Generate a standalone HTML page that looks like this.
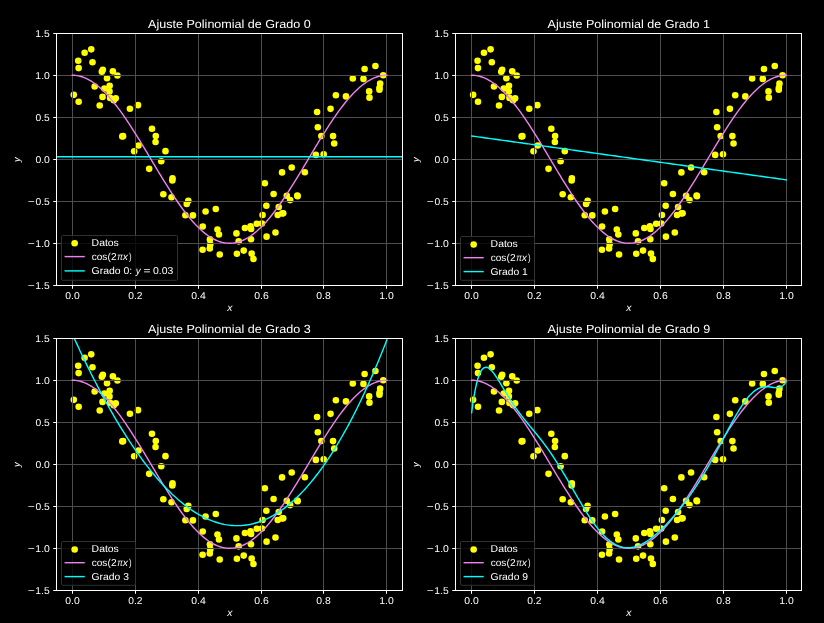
<!DOCTYPE html>
<html><head><meta charset="utf-8"><title>Ajuste Polinomial</title>
<style>
html,body{margin:0;padding:0;background:#000;}
svg{display:block;}
text{font-family:"Liberation Sans",sans-serif;fill:#fff;text-rendering:geometricPrecision;}
</style></head><body>
<svg width="824" height="623" viewBox="0 0 824 623">
<rect width="824" height="623" fill="#000"/>
<g id="ax0">
<clipPath id="c0"><rect x="56.5" y="33.5" width="346.0" height="252.0"/></clipPath>
<g fill="#ffff00" clip-path="url(#c0)">
<circle cx="73.78" cy="94.86" r="3.30"/>
<circle cx="78.22" cy="60.70" r="3.30"/>
<circle cx="78.63" cy="68.10" r="3.30"/>
<circle cx="78.67" cy="101.74" r="3.30"/>
<circle cx="84.63" cy="52.78" r="3.30"/>
<circle cx="91.25" cy="49.34" r="3.30"/>
<circle cx="92.48" cy="62.18" r="3.30"/>
<circle cx="94.65" cy="86.50" r="3.30"/>
<circle cx="99.71" cy="105.51" r="3.30"/>
<circle cx="101.86" cy="71.75" r="3.30"/>
<circle cx="102.53" cy="96.88" r="3.30"/>
<circle cx="102.85" cy="69.87" r="3.30"/>
<circle cx="104.41" cy="88.43" r="3.30"/>
<circle cx="107.03" cy="78.25" r="3.30"/>
<circle cx="109.51" cy="91.41" r="3.30"/>
<circle cx="109.65" cy="85.69" r="3.30"/>
<circle cx="110.11" cy="97.91" r="3.30"/>
<circle cx="112.86" cy="71.33" r="3.30"/>
<circle cx="113.76" cy="100.31" r="3.30"/>
<circle cx="115.77" cy="98.22" r="3.30"/>
<circle cx="117.40" cy="75.44" r="3.30"/>
<circle cx="122.31" cy="136.42" r="3.30"/>
<circle cx="123.05" cy="136.17" r="3.30"/>
<circle cx="129.93" cy="108.73" r="3.30"/>
<circle cx="134.14" cy="151.29" r="3.30"/>
<circle cx="138.01" cy="105.13" r="3.30"/>
<circle cx="138.48" cy="145.50" r="3.30"/>
<circle cx="149.19" cy="168.87" r="3.30"/>
<circle cx="151.98" cy="128.68" r="3.30"/>
<circle cx="155.52" cy="142.05" r="3.30"/>
<circle cx="155.78" cy="135.98" r="3.30"/>
<circle cx="161.26" cy="161.22" r="3.30"/>
<circle cx="163.34" cy="194.30" r="3.30"/>
<circle cx="165.46" cy="151.17" r="3.30"/>
<circle cx="171.52" cy="197.32" r="3.30"/>
<circle cx="172.33" cy="180.57" r="3.30"/>
<circle cx="172.51" cy="178.42" r="3.30"/>
<circle cx="185.39" cy="215.20" r="3.30"/>
<circle cx="186.71" cy="203.97" r="3.30"/>
<circle cx="188.29" cy="200.77" r="3.30"/>
<circle cx="192.92" cy="215.39" r="3.30"/>
<circle cx="202.61" cy="249.82" r="3.30"/>
<circle cx="202.74" cy="226.45" r="3.30"/>
<circle cx="205.57" cy="211.49" r="3.30"/>
<circle cx="209.77" cy="248.43" r="3.30"/>
<circle cx="209.95" cy="239.39" r="3.30"/>
<circle cx="210.27" cy="244.39" r="3.30"/>
<circle cx="215.79" cy="209.01" r="3.30"/>
<circle cx="217.46" cy="229.51" r="3.30"/>
<circle cx="218.98" cy="234.53" r="3.30"/>
<circle cx="219.72" cy="254.56" r="3.30"/>
<circle cx="236.45" cy="233.40" r="3.30"/>
<circle cx="236.89" cy="253.68" r="3.30"/>
<circle cx="238.67" cy="241.33" r="3.30"/>
<circle cx="243.70" cy="250.61" r="3.30"/>
<circle cx="244.93" cy="227.97" r="3.30"/>
<circle cx="250.53" cy="226.32" r="3.30"/>
<circle cx="250.98" cy="239.19" r="3.30"/>
<circle cx="251.11" cy="228.95" r="3.30"/>
<circle cx="251.66" cy="253.57" r="3.30"/>
<circle cx="253.47" cy="258.92" r="3.30"/>
<circle cx="256.79" cy="223.76" r="3.30"/>
<circle cx="261.90" cy="223.54" r="3.30"/>
<circle cx="262.56" cy="215.00" r="3.30"/>
<circle cx="264.84" cy="183.23" r="3.30"/>
<circle cx="266.36" cy="205.71" r="3.30"/>
<circle cx="266.58" cy="236.67" r="3.30"/>
<circle cx="273.59" cy="194.06" r="3.30"/>
<circle cx="275.47" cy="232.47" r="3.30"/>
<circle cx="277.74" cy="215.04" r="3.30"/>
<circle cx="278.75" cy="207.03" r="3.30"/>
<circle cx="282.04" cy="172.42" r="3.30"/>
<circle cx="282.24" cy="213.42" r="3.30"/>
<circle cx="283.25" cy="213.31" r="3.30"/>
<circle cx="286.77" cy="195.80" r="3.30"/>
<circle cx="290.12" cy="200.10" r="3.30"/>
<circle cx="291.74" cy="167.47" r="3.30"/>
<circle cx="297.27" cy="195.62" r="3.30"/>
<circle cx="297.62" cy="196.17" r="3.30"/>
<circle cx="304.84" cy="172.27" r="3.30"/>
<circle cx="315.84" cy="154.88" r="3.30"/>
<circle cx="317.07" cy="112.05" r="3.30"/>
<circle cx="317.82" cy="127.29" r="3.30"/>
<circle cx="321.34" cy="136.01" r="3.30"/>
<circle cx="323.68" cy="154.30" r="3.30"/>
<circle cx="330.55" cy="108.83" r="3.30"/>
<circle cx="333.05" cy="136.08" r="3.30"/>
<circle cx="334.20" cy="143.53" r="3.30"/>
<circle cx="335.88" cy="95.20" r="3.30"/>
<circle cx="345.97" cy="96.42" r="3.30"/>
<circle cx="352.81" cy="78.46" r="3.30"/>
<circle cx="363.45" cy="78.91" r="3.30"/>
<circle cx="364.61" cy="69.01" r="3.30"/>
<circle cx="369.16" cy="91.38" r="3.30"/>
<circle cx="369.45" cy="97.65" r="3.30"/>
<circle cx="375.42" cy="65.98" r="3.30"/>
<circle cx="379.45" cy="89.66" r="3.30"/>
<circle cx="379.54" cy="87.73" r="3.30"/>
<circle cx="380.13" cy="83.66" r="3.30"/>
<circle cx="383.20" cy="75.18" r="3.30"/>
</g>
<path d="M72.5 33.5V285.5M135.5 33.5V285.5M198.5 33.5V285.5M261.5 33.5V285.5M323.5 33.5V285.5M386.5 33.5V285.5M56.5 285.5H402.5M56.5 243.5H402.5M56.5 201.5H402.5M56.5 159.5H402.5M56.5 117.5H402.5M56.5 75.5H402.5M56.5 33.5H402.5" stroke="#4d4d4d" stroke-width="1.00" fill="none"/>
<g fill="none" stroke-width="1.41" stroke-linejoin="round" stroke-linecap="square" clip-path="url(#c0)">
<path d="M72.31 75.25 L73.89 75.29 L75.47 75.42 L77.05 75.63 L78.63 75.92 L80.21 76.29 L81.79 76.75 L83.37 77.29 L84.95 77.92 L86.53 78.62 L88.11 79.40 L89.69 80.27 L91.27 81.21 L92.86 82.23 L94.44 83.32 L96.02 84.50 L97.60 85.74 L99.18 87.06 L100.76 88.45 L102.34 89.92 L103.92 91.45 L105.50 93.05 L107.08 94.71 L108.66 96.44 L110.24 98.23 L111.82 100.09 L113.40 102.00 L114.98 103.97 L116.56 105.99 L118.15 108.07 L119.73 110.20 L121.31 112.38 L122.89 114.60 L124.47 116.87 L126.05 119.18 L127.63 121.53 L129.21 123.92 L130.79 126.34 L132.37 128.80 L133.95 131.28 L135.53 133.80 L137.11 136.34 L138.69 138.90 L140.27 141.48 L141.86 144.08 L143.44 146.70 L145.02 149.33 L146.60 151.97 L148.18 154.61 L149.76 157.26 L151.34 159.91 L152.92 162.56 L154.50 165.21 L156.08 167.85 L157.66 170.49 L159.24 173.11 L160.82 175.72 L162.40 178.31 L163.98 180.88 L165.56 183.44 L167.15 185.96 L168.73 188.46 L170.31 190.94 L171.89 193.38 L173.47 195.78 L175.05 198.15 L176.63 200.48 L178.21 202.77 L179.79 205.02 L181.37 207.22 L182.95 209.37 L184.53 211.47 L186.11 213.53 L187.69 215.52 L189.27 217.46 L190.85 219.35 L192.44 221.17 L194.02 222.93 L195.60 224.63 L197.18 226.26 L198.76 227.83 L200.34 229.32 L201.92 230.75 L203.50 232.11 L205.08 233.39 L206.66 234.60 L208.24 235.73 L209.82 236.79 L211.40 237.77 L212.98 238.68 L214.56 239.50 L216.14 240.24 L217.73 240.91 L219.31 241.49 L220.89 241.99 L222.47 242.40 L224.05 242.74 L225.63 242.99 L227.21 243.16 L228.79 243.24 L230.37 243.24 L231.95 243.16 L233.53 242.99 L235.11 242.74 L236.69 242.40 L238.27 241.99 L239.85 241.49 L241.43 240.91 L243.02 240.24 L244.60 239.50 L246.18 238.68 L247.76 237.77 L249.34 236.79 L250.92 235.73 L252.50 234.60 L254.08 233.39 L255.66 232.11 L257.24 230.75 L258.82 229.32 L260.40 227.83 L261.98 226.26 L263.56 224.63 L265.14 222.93 L266.72 221.17 L268.31 219.35 L269.89 217.46 L271.47 215.52 L273.05 213.53 L274.63 211.47 L276.21 209.37 L277.79 207.22 L279.37 205.02 L280.95 202.77 L282.53 200.48 L284.11 198.15 L285.69 195.78 L287.27 193.38 L288.85 190.94 L290.43 188.46 L292.01 185.96 L293.60 183.44 L295.18 180.88 L296.76 178.31 L298.34 175.72 L299.92 173.11 L301.50 170.49 L303.08 167.85 L304.66 165.21 L306.24 162.56 L307.82 159.91 L309.40 157.26 L310.98 154.61 L312.56 151.97 L314.14 149.33 L315.72 146.70 L317.30 144.08 L318.89 141.48 L320.47 138.90 L322.05 136.34 L323.63 133.80 L325.21 131.28 L326.79 128.80 L328.37 126.34 L329.95 123.92 L331.53 121.53 L333.11 119.18 L334.69 116.87 L336.27 114.60 L337.85 112.38 L339.43 110.20 L341.01 108.07 L342.60 105.99 L344.18 103.97 L345.76 102.00 L347.34 100.09 L348.92 98.23 L350.50 96.44 L352.08 94.71 L353.66 93.05 L355.24 91.45 L356.82 89.92 L358.40 88.45 L359.98 87.06 L361.56 85.74 L363.14 84.50 L364.72 83.32 L366.30 82.23 L367.89 81.21 L369.47 80.27 L371.05 79.40 L372.63 78.62 L374.21 77.92 L375.79 77.29 L377.37 76.75 L378.95 76.29 L380.53 75.92 L382.11 75.63 L383.69 75.42 L385.27 75.29 L386.85 75.25" stroke="#ee82ee"/>
<path d="M56.5 156.71H402.5" stroke="#00ffff"/>
</g>
<path d="M72.5 285.5v3.29M135.5 285.5v3.29M198.5 285.5v3.29M261.5 285.5v3.29M323.5 285.5v3.29M386.5 285.5v3.29M56.5 285.5h-3.29M56.5 243.5h-3.29M56.5 201.5h-3.29M56.5 159.5h-3.29M56.5 117.5h-3.29M56.5 75.5h-3.29M56.5 33.5h-3.29" stroke="#fff" stroke-width="1.00" fill="none"/>
<rect x="56.5" y="33.5" width="346.0" height="252.0" fill="none" stroke="#fff" stroke-width="1.00"/>
<rect x="61.5" y="235.5" width="116.0" height="44.80000000000001" rx="1.2" fill="#000" fill-opacity="0.8" stroke="#333" stroke-width="0.94"/>
<circle cx="74.66" cy="243.30" r="3.30" fill="#ffff00"/>
<path d="M65.26 256.60H84.06" stroke="#ee82ee" stroke-width="1.41" stroke-linecap="square"/>
<path d="M65.26 270.90H84.06" stroke="#00ffff" stroke-width="1.41" stroke-linecap="square"/>
</g>
<g id="ax1">
<clipPath id="c1"><rect x="455.5" y="33.5" width="346.0" height="252.0"/></clipPath>
<g fill="#ffff00" clip-path="url(#c1)">
<circle cx="473.12" cy="94.86" r="3.30"/>
<circle cx="477.56" cy="60.70" r="3.30"/>
<circle cx="477.97" cy="68.10" r="3.30"/>
<circle cx="478.01" cy="101.74" r="3.30"/>
<circle cx="483.97" cy="52.78" r="3.30"/>
<circle cx="490.59" cy="49.34" r="3.30"/>
<circle cx="491.82" cy="62.18" r="3.30"/>
<circle cx="493.99" cy="86.50" r="3.30"/>
<circle cx="499.05" cy="105.51" r="3.30"/>
<circle cx="501.20" cy="71.75" r="3.30"/>
<circle cx="501.87" cy="96.88" r="3.30"/>
<circle cx="502.19" cy="69.87" r="3.30"/>
<circle cx="503.75" cy="88.43" r="3.30"/>
<circle cx="506.37" cy="78.25" r="3.30"/>
<circle cx="508.85" cy="91.41" r="3.30"/>
<circle cx="508.99" cy="85.69" r="3.30"/>
<circle cx="509.45" cy="97.91" r="3.30"/>
<circle cx="512.20" cy="71.33" r="3.30"/>
<circle cx="513.10" cy="100.31" r="3.30"/>
<circle cx="515.11" cy="98.22" r="3.30"/>
<circle cx="516.74" cy="75.44" r="3.30"/>
<circle cx="521.65" cy="136.42" r="3.30"/>
<circle cx="522.39" cy="136.17" r="3.30"/>
<circle cx="529.27" cy="108.73" r="3.30"/>
<circle cx="533.48" cy="151.29" r="3.30"/>
<circle cx="537.35" cy="105.13" r="3.30"/>
<circle cx="537.82" cy="145.50" r="3.30"/>
<circle cx="548.53" cy="168.87" r="3.30"/>
<circle cx="551.32" cy="128.68" r="3.30"/>
<circle cx="554.86" cy="142.05" r="3.30"/>
<circle cx="555.12" cy="135.98" r="3.30"/>
<circle cx="560.60" cy="161.22" r="3.30"/>
<circle cx="562.68" cy="194.30" r="3.30"/>
<circle cx="564.80" cy="151.17" r="3.30"/>
<circle cx="570.86" cy="197.32" r="3.30"/>
<circle cx="571.67" cy="180.57" r="3.30"/>
<circle cx="571.85" cy="178.42" r="3.30"/>
<circle cx="584.73" cy="215.20" r="3.30"/>
<circle cx="586.05" cy="203.97" r="3.30"/>
<circle cx="587.63" cy="200.77" r="3.30"/>
<circle cx="592.26" cy="215.39" r="3.30"/>
<circle cx="601.95" cy="249.82" r="3.30"/>
<circle cx="602.08" cy="226.45" r="3.30"/>
<circle cx="604.91" cy="211.49" r="3.30"/>
<circle cx="609.11" cy="248.43" r="3.30"/>
<circle cx="609.29" cy="239.39" r="3.30"/>
<circle cx="609.61" cy="244.39" r="3.30"/>
<circle cx="615.13" cy="209.01" r="3.30"/>
<circle cx="616.80" cy="229.51" r="3.30"/>
<circle cx="618.32" cy="234.53" r="3.30"/>
<circle cx="619.06" cy="254.56" r="3.30"/>
<circle cx="635.79" cy="233.40" r="3.30"/>
<circle cx="636.23" cy="253.68" r="3.30"/>
<circle cx="638.01" cy="241.33" r="3.30"/>
<circle cx="643.04" cy="250.61" r="3.30"/>
<circle cx="644.27" cy="227.97" r="3.30"/>
<circle cx="649.87" cy="226.32" r="3.30"/>
<circle cx="650.32" cy="239.19" r="3.30"/>
<circle cx="650.45" cy="228.95" r="3.30"/>
<circle cx="651.00" cy="253.57" r="3.30"/>
<circle cx="652.81" cy="258.92" r="3.30"/>
<circle cx="656.13" cy="223.76" r="3.30"/>
<circle cx="661.24" cy="223.54" r="3.30"/>
<circle cx="661.90" cy="215.00" r="3.30"/>
<circle cx="664.18" cy="183.23" r="3.30"/>
<circle cx="665.70" cy="205.71" r="3.30"/>
<circle cx="665.92" cy="236.67" r="3.30"/>
<circle cx="672.93" cy="194.06" r="3.30"/>
<circle cx="674.81" cy="232.47" r="3.30"/>
<circle cx="677.08" cy="215.04" r="3.30"/>
<circle cx="678.09" cy="207.03" r="3.30"/>
<circle cx="681.38" cy="172.42" r="3.30"/>
<circle cx="681.58" cy="213.42" r="3.30"/>
<circle cx="682.59" cy="213.31" r="3.30"/>
<circle cx="686.11" cy="195.80" r="3.30"/>
<circle cx="689.46" cy="200.10" r="3.30"/>
<circle cx="691.08" cy="167.47" r="3.30"/>
<circle cx="696.61" cy="195.62" r="3.30"/>
<circle cx="696.96" cy="196.17" r="3.30"/>
<circle cx="704.18" cy="172.27" r="3.30"/>
<circle cx="715.18" cy="154.88" r="3.30"/>
<circle cx="716.41" cy="112.05" r="3.30"/>
<circle cx="717.16" cy="127.29" r="3.30"/>
<circle cx="720.68" cy="136.01" r="3.30"/>
<circle cx="723.02" cy="154.30" r="3.30"/>
<circle cx="729.89" cy="108.83" r="3.30"/>
<circle cx="732.39" cy="136.08" r="3.30"/>
<circle cx="733.54" cy="143.53" r="3.30"/>
<circle cx="735.22" cy="95.20" r="3.30"/>
<circle cx="745.31" cy="96.42" r="3.30"/>
<circle cx="752.15" cy="78.46" r="3.30"/>
<circle cx="762.79" cy="78.91" r="3.30"/>
<circle cx="763.95" cy="69.01" r="3.30"/>
<circle cx="768.50" cy="91.38" r="3.30"/>
<circle cx="768.79" cy="97.65" r="3.30"/>
<circle cx="774.76" cy="65.98" r="3.30"/>
<circle cx="778.79" cy="89.66" r="3.30"/>
<circle cx="778.88" cy="87.73" r="3.30"/>
<circle cx="779.47" cy="83.66" r="3.30"/>
<circle cx="782.54" cy="75.18" r="3.30"/>
</g>
<path d="M471.5 33.5V285.5M534.5 33.5V285.5M597.5 33.5V285.5M660.5 33.5V285.5M723.5 33.5V285.5M786.5 33.5V285.5M455.5 285.5H801.5M455.5 243.5H801.5M455.5 201.5H801.5M455.5 159.5H801.5M455.5 117.5H801.5M455.5 75.5H801.5M455.5 33.5H801.5" stroke="#4d4d4d" stroke-width="1.00" fill="none"/>
<g fill="none" stroke-width="1.41" stroke-linejoin="round" stroke-linecap="square" clip-path="url(#c1)">
<path d="M471.65 75.25 L473.23 75.29 L474.81 75.42 L476.39 75.63 L477.97 75.92 L479.55 76.29 L481.13 76.75 L482.71 77.29 L484.29 77.92 L485.87 78.62 L487.45 79.40 L489.03 80.27 L490.61 81.21 L492.20 82.23 L493.78 83.32 L495.36 84.50 L496.94 85.74 L498.52 87.06 L500.10 88.45 L501.68 89.92 L503.26 91.45 L504.84 93.05 L506.42 94.71 L508.00 96.44 L509.58 98.23 L511.16 100.09 L512.74 102.00 L514.32 103.97 L515.90 105.99 L517.49 108.07 L519.07 110.20 L520.65 112.38 L522.23 114.60 L523.81 116.87 L525.39 119.18 L526.97 121.53 L528.55 123.92 L530.13 126.34 L531.71 128.80 L533.29 131.28 L534.87 133.80 L536.45 136.34 L538.03 138.90 L539.61 141.48 L541.20 144.08 L542.78 146.70 L544.36 149.33 L545.94 151.97 L547.52 154.61 L549.10 157.26 L550.68 159.91 L552.26 162.56 L553.84 165.21 L555.42 167.85 L557.00 170.49 L558.58 173.11 L560.16 175.72 L561.74 178.31 L563.32 180.88 L564.90 183.44 L566.49 185.96 L568.07 188.46 L569.65 190.94 L571.23 193.38 L572.81 195.78 L574.39 198.15 L575.97 200.48 L577.55 202.77 L579.13 205.02 L580.71 207.22 L582.29 209.37 L583.87 211.47 L585.45 213.53 L587.03 215.52 L588.61 217.46 L590.19 219.35 L591.78 221.17 L593.36 222.93 L594.94 224.63 L596.52 226.26 L598.10 227.83 L599.68 229.32 L601.26 230.75 L602.84 232.11 L604.42 233.39 L606.00 234.60 L607.58 235.73 L609.16 236.79 L610.74 237.77 L612.32 238.68 L613.90 239.50 L615.48 240.24 L617.07 240.91 L618.65 241.49 L620.23 241.99 L621.81 242.40 L623.39 242.74 L624.97 242.99 L626.55 243.16 L628.13 243.24 L629.71 243.24 L631.29 243.16 L632.87 242.99 L634.45 242.74 L636.03 242.40 L637.61 241.99 L639.19 241.49 L640.77 240.91 L642.36 240.24 L643.94 239.50 L645.52 238.68 L647.10 237.77 L648.68 236.79 L650.26 235.73 L651.84 234.60 L653.42 233.39 L655.00 232.11 L656.58 230.75 L658.16 229.32 L659.74 227.83 L661.32 226.26 L662.90 224.63 L664.48 222.93 L666.06 221.17 L667.65 219.35 L669.23 217.46 L670.81 215.52 L672.39 213.53 L673.97 211.47 L675.55 209.37 L677.13 207.22 L678.71 205.02 L680.29 202.77 L681.87 200.48 L683.45 198.15 L685.03 195.78 L686.61 193.38 L688.19 190.94 L689.77 188.46 L691.35 185.96 L692.94 183.44 L694.52 180.88 L696.10 178.31 L697.68 175.72 L699.26 173.11 L700.84 170.49 L702.42 167.85 L704.00 165.21 L705.58 162.56 L707.16 159.91 L708.74 157.26 L710.32 154.61 L711.90 151.97 L713.48 149.33 L715.06 146.70 L716.64 144.08 L718.23 141.48 L719.81 138.90 L721.39 136.34 L722.97 133.80 L724.55 131.28 L726.13 128.80 L727.71 126.34 L729.29 123.92 L730.87 121.53 L732.45 119.18 L734.03 116.87 L735.61 114.60 L737.19 112.38 L738.77 110.20 L740.35 108.07 L741.94 105.99 L743.52 103.97 L745.10 102.00 L746.68 100.09 L748.26 98.23 L749.84 96.44 L751.42 94.71 L753.00 93.05 L754.58 91.45 L756.16 89.92 L757.74 88.45 L759.32 87.06 L760.90 85.74 L762.48 84.50 L764.06 83.32 L765.64 82.23 L767.23 81.21 L768.81 80.27 L770.39 79.40 L771.97 78.62 L773.55 77.92 L775.13 77.29 L776.71 76.75 L778.29 76.29 L779.87 75.92 L781.45 75.63 L783.03 75.42 L784.61 75.29 L786.19 75.25" stroke="#ee82ee"/>
<path d="M471.65 135.98 L473.23 136.20 L474.81 136.42 L476.39 136.64 L477.97 136.86 L479.55 137.08 L481.13 137.30 L482.71 137.52 L484.29 137.74 L485.87 137.96 L487.45 138.18 L489.03 138.40 L490.61 138.62 L492.20 138.84 L493.78 139.06 L495.36 139.28 L496.94 139.50 L498.52 139.72 L500.10 139.94 L501.68 140.16 L503.26 140.38 L504.84 140.60 L506.42 140.82 L508.00 141.04 L509.58 141.27 L511.16 141.49 L512.74 141.71 L514.32 141.93 L515.90 142.15 L517.49 142.37 L519.07 142.59 L520.65 142.81 L522.23 143.03 L523.81 143.25 L525.39 143.47 L526.97 143.69 L528.55 143.91 L530.13 144.13 L531.71 144.35 L533.29 144.57 L534.87 144.79 L536.45 145.01 L538.03 145.23 L539.61 145.45 L541.20 145.67 L542.78 145.89 L544.36 146.11 L545.94 146.33 L547.52 146.55 L549.10 146.78 L550.68 147.00 L552.26 147.22 L553.84 147.44 L555.42 147.66 L557.00 147.88 L558.58 148.10 L560.16 148.32 L561.74 148.54 L563.32 148.76 L564.90 148.98 L566.49 149.20 L568.07 149.42 L569.65 149.64 L571.23 149.86 L572.81 150.08 L574.39 150.30 L575.97 150.52 L577.55 150.74 L579.13 150.96 L580.71 151.18 L582.29 151.40 L583.87 151.62 L585.45 151.84 L587.03 152.06 L588.61 152.28 L590.19 152.51 L591.78 152.73 L593.36 152.95 L594.94 153.17 L596.52 153.39 L598.10 153.61 L599.68 153.83 L601.26 154.05 L602.84 154.27 L604.42 154.49 L606.00 154.71 L607.58 154.93 L609.16 155.15 L610.74 155.37 L612.32 155.59 L613.90 155.81 L615.48 156.03 L617.07 156.25 L618.65 156.47 L620.23 156.69 L621.81 156.91 L623.39 157.13 L624.97 157.35 L626.55 157.57 L628.13 157.79 L629.71 158.02 L631.29 158.24 L632.87 158.46 L634.45 158.68 L636.03 158.90 L637.61 159.12 L639.19 159.34 L640.77 159.56 L642.36 159.78 L643.94 160.00 L645.52 160.22 L647.10 160.44 L648.68 160.66 L650.26 160.88 L651.84 161.10 L653.42 161.32 L655.00 161.54 L656.58 161.76 L658.16 161.98 L659.74 162.20 L661.32 162.42 L662.90 162.64 L664.48 162.86 L666.06 163.08 L667.65 163.30 L669.23 163.52 L670.81 163.75 L672.39 163.97 L673.97 164.19 L675.55 164.41 L677.13 164.63 L678.71 164.85 L680.29 165.07 L681.87 165.29 L683.45 165.51 L685.03 165.73 L686.61 165.95 L688.19 166.17 L689.77 166.39 L691.35 166.61 L692.94 166.83 L694.52 167.05 L696.10 167.27 L697.68 167.49 L699.26 167.71 L700.84 167.93 L702.42 168.15 L704.00 168.37 L705.58 168.59 L707.16 168.81 L708.74 169.03 L710.32 169.25 L711.90 169.48 L713.48 169.70 L715.06 169.92 L716.64 170.14 L718.23 170.36 L719.81 170.58 L721.39 170.80 L722.97 171.02 L724.55 171.24 L726.13 171.46 L727.71 171.68 L729.29 171.90 L730.87 172.12 L732.45 172.34 L734.03 172.56 L735.61 172.78 L737.19 173.00 L738.77 173.22 L740.35 173.44 L741.94 173.66 L743.52 173.88 L745.10 174.10 L746.68 174.32 L748.26 174.54 L749.84 174.76 L751.42 174.99 L753.00 175.21 L754.58 175.43 L756.16 175.65 L757.74 175.87 L759.32 176.09 L760.90 176.31 L762.48 176.53 L764.06 176.75 L765.64 176.97 L767.23 177.19 L768.81 177.41 L770.39 177.63 L771.97 177.85 L773.55 178.07 L775.13 178.29 L776.71 178.51 L778.29 178.73 L779.87 178.95 L781.45 179.17 L783.03 179.39 L784.61 179.61 L786.19 179.83" stroke="#00ffff"/>
</g>
<path d="M471.5 285.5v3.29M534.5 285.5v3.29M597.5 285.5v3.29M660.5 285.5v3.29M723.5 285.5v3.29M786.5 285.5v3.29M455.5 285.5h-3.29M455.5 243.5h-3.29M455.5 201.5h-3.29M455.5 159.5h-3.29M455.5 117.5h-3.29M455.5 75.5h-3.29M455.5 33.5h-3.29" stroke="#fff" stroke-width="1.00" fill="none"/>
<rect x="455.5" y="33.5" width="346.0" height="252.0" fill="none" stroke="#fff" stroke-width="1.00"/>
<rect x="460.5" y="236.5" width="74.0" height="43.80000000000001" rx="1.2" fill="#000" fill-opacity="0.8" stroke="#333" stroke-width="0.94"/>
<circle cx="473.66" cy="244.50" r="3.30" fill="#ffff00"/>
<path d="M464.26 257.70H483.06" stroke="#ee82ee" stroke-width="1.41" stroke-linecap="square"/>
<path d="M464.26 271.60H483.06" stroke="#00ffff" stroke-width="1.41" stroke-linecap="square"/>
</g>
<g id="ax2">
<clipPath id="c2"><rect x="56.5" y="338.5" width="346.0" height="252.0"/></clipPath>
<g fill="#ffff00" clip-path="url(#c2)">
<circle cx="73.78" cy="399.86" r="3.30"/>
<circle cx="78.22" cy="365.70" r="3.30"/>
<circle cx="78.63" cy="373.10" r="3.30"/>
<circle cx="78.67" cy="406.74" r="3.30"/>
<circle cx="84.63" cy="357.78" r="3.30"/>
<circle cx="91.25" cy="354.34" r="3.30"/>
<circle cx="92.48" cy="367.18" r="3.30"/>
<circle cx="94.65" cy="391.50" r="3.30"/>
<circle cx="99.71" cy="410.51" r="3.30"/>
<circle cx="101.86" cy="376.75" r="3.30"/>
<circle cx="102.53" cy="401.88" r="3.30"/>
<circle cx="102.85" cy="374.87" r="3.30"/>
<circle cx="104.41" cy="393.43" r="3.30"/>
<circle cx="107.03" cy="383.25" r="3.30"/>
<circle cx="109.51" cy="396.41" r="3.30"/>
<circle cx="109.65" cy="390.69" r="3.30"/>
<circle cx="110.11" cy="402.91" r="3.30"/>
<circle cx="112.86" cy="376.33" r="3.30"/>
<circle cx="113.76" cy="405.31" r="3.30"/>
<circle cx="115.77" cy="403.22" r="3.30"/>
<circle cx="117.40" cy="380.44" r="3.30"/>
<circle cx="122.31" cy="441.42" r="3.30"/>
<circle cx="123.05" cy="441.17" r="3.30"/>
<circle cx="129.93" cy="413.73" r="3.30"/>
<circle cx="134.14" cy="456.29" r="3.30"/>
<circle cx="138.01" cy="410.13" r="3.30"/>
<circle cx="138.48" cy="450.50" r="3.30"/>
<circle cx="149.19" cy="473.87" r="3.30"/>
<circle cx="151.98" cy="433.68" r="3.30"/>
<circle cx="155.52" cy="447.05" r="3.30"/>
<circle cx="155.78" cy="440.98" r="3.30"/>
<circle cx="161.26" cy="466.22" r="3.30"/>
<circle cx="163.34" cy="499.30" r="3.30"/>
<circle cx="165.46" cy="456.17" r="3.30"/>
<circle cx="171.52" cy="502.32" r="3.30"/>
<circle cx="172.33" cy="485.57" r="3.30"/>
<circle cx="172.51" cy="483.42" r="3.30"/>
<circle cx="185.39" cy="520.20" r="3.30"/>
<circle cx="186.71" cy="508.97" r="3.30"/>
<circle cx="188.29" cy="505.77" r="3.30"/>
<circle cx="192.92" cy="520.39" r="3.30"/>
<circle cx="202.61" cy="554.82" r="3.30"/>
<circle cx="202.74" cy="531.45" r="3.30"/>
<circle cx="205.57" cy="516.49" r="3.30"/>
<circle cx="209.77" cy="553.43" r="3.30"/>
<circle cx="209.95" cy="544.39" r="3.30"/>
<circle cx="210.27" cy="549.39" r="3.30"/>
<circle cx="215.79" cy="514.01" r="3.30"/>
<circle cx="217.46" cy="534.51" r="3.30"/>
<circle cx="218.98" cy="539.53" r="3.30"/>
<circle cx="219.72" cy="559.56" r="3.30"/>
<circle cx="236.45" cy="538.40" r="3.30"/>
<circle cx="236.89" cy="558.68" r="3.30"/>
<circle cx="238.67" cy="546.33" r="3.30"/>
<circle cx="243.70" cy="555.61" r="3.30"/>
<circle cx="244.93" cy="532.97" r="3.30"/>
<circle cx="250.53" cy="531.32" r="3.30"/>
<circle cx="250.98" cy="544.19" r="3.30"/>
<circle cx="251.11" cy="533.95" r="3.30"/>
<circle cx="251.66" cy="558.57" r="3.30"/>
<circle cx="253.47" cy="563.92" r="3.30"/>
<circle cx="256.79" cy="528.76" r="3.30"/>
<circle cx="261.90" cy="528.54" r="3.30"/>
<circle cx="262.56" cy="520.00" r="3.30"/>
<circle cx="264.84" cy="488.23" r="3.30"/>
<circle cx="266.36" cy="510.71" r="3.30"/>
<circle cx="266.58" cy="541.67" r="3.30"/>
<circle cx="273.59" cy="499.06" r="3.30"/>
<circle cx="275.47" cy="537.47" r="3.30"/>
<circle cx="277.74" cy="520.04" r="3.30"/>
<circle cx="278.75" cy="512.03" r="3.30"/>
<circle cx="282.04" cy="477.42" r="3.30"/>
<circle cx="282.24" cy="518.42" r="3.30"/>
<circle cx="283.25" cy="518.31" r="3.30"/>
<circle cx="286.77" cy="500.80" r="3.30"/>
<circle cx="290.12" cy="505.10" r="3.30"/>
<circle cx="291.74" cy="472.47" r="3.30"/>
<circle cx="297.27" cy="500.62" r="3.30"/>
<circle cx="297.62" cy="501.17" r="3.30"/>
<circle cx="304.84" cy="477.27" r="3.30"/>
<circle cx="315.84" cy="459.88" r="3.30"/>
<circle cx="317.07" cy="417.05" r="3.30"/>
<circle cx="317.82" cy="432.29" r="3.30"/>
<circle cx="321.34" cy="441.01" r="3.30"/>
<circle cx="323.68" cy="459.30" r="3.30"/>
<circle cx="330.55" cy="413.83" r="3.30"/>
<circle cx="333.05" cy="441.08" r="3.30"/>
<circle cx="334.20" cy="448.53" r="3.30"/>
<circle cx="335.88" cy="400.20" r="3.30"/>
<circle cx="345.97" cy="401.42" r="3.30"/>
<circle cx="352.81" cy="383.46" r="3.30"/>
<circle cx="363.45" cy="383.91" r="3.30"/>
<circle cx="364.61" cy="374.01" r="3.30"/>
<circle cx="369.16" cy="396.38" r="3.30"/>
<circle cx="369.45" cy="402.65" r="3.30"/>
<circle cx="375.42" cy="370.98" r="3.30"/>
<circle cx="379.45" cy="394.66" r="3.30"/>
<circle cx="379.54" cy="392.73" r="3.30"/>
<circle cx="380.13" cy="388.66" r="3.30"/>
<circle cx="383.20" cy="380.18" r="3.30"/>
</g>
<path d="M72.5 338.5V590.5M135.5 338.5V590.5M198.5 338.5V590.5M261.5 338.5V590.5M323.5 338.5V590.5M386.5 338.5V590.5M56.5 590.5H402.5M56.5 548.5H402.5M56.5 506.5H402.5M56.5 464.5H402.5M56.5 422.5H402.5M56.5 380.5H402.5M56.5 338.5H402.5" stroke="#4d4d4d" stroke-width="1.00" fill="none"/>
<g fill="none" stroke-width="1.41" stroke-linejoin="round" stroke-linecap="square" clip-path="url(#c2)">
<path d="M72.31 380.25 L73.89 380.29 L75.47 380.42 L77.05 380.63 L78.63 380.92 L80.21 381.29 L81.79 381.75 L83.37 382.29 L84.95 382.92 L86.53 383.62 L88.11 384.40 L89.69 385.27 L91.27 386.21 L92.86 387.23 L94.44 388.32 L96.02 389.50 L97.60 390.74 L99.18 392.06 L100.76 393.45 L102.34 394.92 L103.92 396.45 L105.50 398.05 L107.08 399.71 L108.66 401.44 L110.24 403.23 L111.82 405.09 L113.40 407.00 L114.98 408.97 L116.56 410.99 L118.15 413.07 L119.73 415.20 L121.31 417.38 L122.89 419.60 L124.47 421.87 L126.05 424.18 L127.63 426.53 L129.21 428.92 L130.79 431.34 L132.37 433.80 L133.95 436.28 L135.53 438.80 L137.11 441.34 L138.69 443.90 L140.27 446.48 L141.86 449.08 L143.44 451.70 L145.02 454.33 L146.60 456.97 L148.18 459.61 L149.76 462.26 L151.34 464.91 L152.92 467.56 L154.50 470.21 L156.08 472.85 L157.66 475.49 L159.24 478.11 L160.82 480.72 L162.40 483.31 L163.98 485.88 L165.56 488.44 L167.15 490.96 L168.73 493.46 L170.31 495.94 L171.89 498.38 L173.47 500.78 L175.05 503.15 L176.63 505.48 L178.21 507.77 L179.79 510.02 L181.37 512.22 L182.95 514.37 L184.53 516.47 L186.11 518.53 L187.69 520.52 L189.27 522.46 L190.85 524.35 L192.44 526.17 L194.02 527.93 L195.60 529.63 L197.18 531.26 L198.76 532.83 L200.34 534.32 L201.92 535.75 L203.50 537.11 L205.08 538.39 L206.66 539.60 L208.24 540.73 L209.82 541.79 L211.40 542.77 L212.98 543.68 L214.56 544.50 L216.14 545.24 L217.73 545.91 L219.31 546.49 L220.89 546.99 L222.47 547.40 L224.05 547.74 L225.63 547.99 L227.21 548.16 L228.79 548.24 L230.37 548.24 L231.95 548.16 L233.53 547.99 L235.11 547.74 L236.69 547.40 L238.27 546.99 L239.85 546.49 L241.43 545.91 L243.02 545.24 L244.60 544.50 L246.18 543.68 L247.76 542.77 L249.34 541.79 L250.92 540.73 L252.50 539.60 L254.08 538.39 L255.66 537.11 L257.24 535.75 L258.82 534.32 L260.40 532.83 L261.98 531.26 L263.56 529.63 L265.14 527.93 L266.72 526.17 L268.31 524.35 L269.89 522.46 L271.47 520.52 L273.05 518.53 L274.63 516.47 L276.21 514.37 L277.79 512.22 L279.37 510.02 L280.95 507.77 L282.53 505.48 L284.11 503.15 L285.69 500.78 L287.27 498.38 L288.85 495.94 L290.43 493.46 L292.01 490.96 L293.60 488.44 L295.18 485.88 L296.76 483.31 L298.34 480.72 L299.92 478.11 L301.50 475.49 L303.08 472.85 L304.66 470.21 L306.24 467.56 L307.82 464.91 L309.40 462.26 L310.98 459.61 L312.56 456.97 L314.14 454.33 L315.72 451.70 L317.30 449.08 L318.89 446.48 L320.47 443.90 L322.05 441.34 L323.63 438.80 L325.21 436.28 L326.79 433.80 L328.37 431.34 L329.95 428.92 L331.53 426.53 L333.11 424.18 L334.69 421.87 L336.27 419.60 L337.85 417.38 L339.43 415.20 L341.01 413.07 L342.60 410.99 L344.18 408.97 L345.76 407.00 L347.34 405.09 L348.92 403.23 L350.50 401.44 L352.08 399.71 L353.66 398.05 L355.24 396.45 L356.82 394.92 L358.40 393.45 L359.98 392.06 L361.56 390.74 L363.14 389.50 L364.72 388.32 L366.30 387.23 L367.89 386.21 L369.47 385.27 L371.05 384.40 L372.63 383.62 L374.21 382.92 L375.79 382.29 L377.37 381.75 L378.95 381.29 L380.53 380.92 L382.11 380.63 L383.69 380.42 L385.27 380.29 L386.85 380.25" stroke="#ee82ee"/>
<path d="M72.31 334.03 L73.89 337.52 L75.47 340.98 L77.05 344.41 L78.63 347.82 L80.21 351.19 L81.79 354.53 L83.37 357.85 L84.95 361.13 L86.53 364.39 L88.11 367.61 L89.69 370.81 L91.27 373.98 L92.86 377.12 L94.44 380.22 L96.02 383.30 L97.60 386.35 L99.18 389.36 L100.76 392.35 L102.34 395.31 L103.92 398.23 L105.50 401.13 L107.08 403.99 L108.66 406.83 L110.24 409.63 L111.82 412.40 L113.40 415.14 L114.98 417.85 L116.56 420.53 L118.15 423.18 L119.73 425.80 L121.31 428.38 L122.89 430.93 L124.47 433.46 L126.05 435.94 L127.63 438.40 L129.21 440.83 L130.79 443.22 L132.37 445.58 L133.95 447.91 L135.53 450.21 L137.11 452.47 L138.69 454.71 L140.27 456.91 L141.86 459.07 L143.44 461.21 L145.02 463.31 L146.60 465.38 L148.18 467.41 L149.76 469.41 L151.34 471.38 L152.92 473.32 L154.50 475.22 L156.08 477.09 L157.66 478.92 L159.24 480.72 L160.82 482.49 L162.40 484.22 L163.98 485.92 L165.56 487.58 L167.15 489.21 L168.73 490.81 L170.31 492.37 L171.89 493.90 L173.47 495.39 L175.05 496.85 L176.63 498.27 L178.21 499.66 L179.79 501.01 L181.37 502.33 L182.95 503.62 L184.53 504.86 L186.11 506.08 L187.69 507.25 L189.27 508.39 L190.85 509.50 L192.44 510.57 L194.02 511.61 L195.60 512.60 L197.18 513.57 L198.76 514.49 L200.34 515.38 L201.92 516.24 L203.50 517.05 L205.08 517.84 L206.66 518.58 L208.24 519.29 L209.82 519.96 L211.40 520.59 L212.98 521.19 L214.56 521.75 L216.14 522.27 L217.73 522.76 L219.31 523.21 L220.89 523.62 L222.47 523.99 L224.05 524.33 L225.63 524.63 L227.21 524.89 L228.79 525.11 L230.37 525.30 L231.95 525.44 L233.53 525.55 L235.11 525.62 L236.69 525.65 L238.27 525.65 L239.85 525.60 L241.43 525.52 L243.02 525.40 L244.60 525.23 L246.18 525.03 L247.76 524.80 L249.34 524.52 L250.92 524.20 L252.50 523.84 L254.08 523.45 L255.66 523.01 L257.24 522.54 L258.82 522.02 L260.40 521.47 L261.98 520.87 L263.56 520.24 L265.14 519.56 L266.72 518.85 L268.31 518.09 L269.89 517.30 L271.47 516.46 L273.05 515.59 L274.63 514.67 L276.21 513.71 L277.79 512.71 L279.37 511.68 L280.95 510.60 L282.53 509.47 L284.11 508.31 L285.69 507.11 L287.27 505.86 L288.85 504.58 L290.43 503.25 L292.01 501.88 L293.60 500.47 L295.18 499.01 L296.76 497.52 L298.34 495.98 L299.92 494.40 L301.50 492.78 L303.08 491.12 L304.66 489.41 L306.24 487.66 L307.82 485.87 L309.40 484.04 L310.98 482.16 L312.56 480.24 L314.14 478.28 L315.72 476.28 L317.30 474.23 L318.89 472.14 L320.47 470.00 L322.05 467.82 L323.63 465.60 L325.21 463.33 L326.79 461.02 L328.37 458.67 L329.95 456.27 L331.53 453.83 L333.11 451.35 L334.69 448.82 L336.27 446.25 L337.85 443.63 L339.43 440.96 L341.01 438.26 L342.60 435.51 L344.18 432.71 L345.76 429.87 L347.34 426.98 L348.92 424.05 L350.50 421.08 L352.08 418.05 L353.66 414.99 L355.24 411.88 L356.82 408.72 L358.40 405.51 L359.98 402.27 L361.56 398.97 L363.14 395.63 L364.72 392.24 L366.30 388.81 L367.89 385.33 L369.47 381.81 L371.05 378.24 L372.63 374.62 L374.21 370.95 L375.79 367.24 L377.37 363.49 L378.95 359.68 L380.53 355.83 L382.11 351.93 L383.69 347.99 L385.27 343.99 L386.85 339.95" stroke="#00ffff"/>
</g>
<path d="M72.5 590.5v3.29M135.5 590.5v3.29M198.5 590.5v3.29M261.5 590.5v3.29M323.5 590.5v3.29M386.5 590.5v3.29M56.5 590.5h-3.29M56.5 548.5h-3.29M56.5 506.5h-3.29M56.5 464.5h-3.29M56.5 422.5h-3.29M56.5 380.5h-3.29M56.5 338.5h-3.29" stroke="#fff" stroke-width="1.00" fill="none"/>
<rect x="56.5" y="338.5" width="346.0" height="252.0" fill="none" stroke="#fff" stroke-width="1.00"/>
<rect x="61.5" y="541.5" width="74.0" height="43.799999999999955" rx="1.2" fill="#000" fill-opacity="0.8" stroke="#333" stroke-width="0.94"/>
<circle cx="74.66" cy="549.50" r="3.30" fill="#ffff00"/>
<path d="M65.26 562.70H84.06" stroke="#ee82ee" stroke-width="1.41" stroke-linecap="square"/>
<path d="M65.26 576.60H84.06" stroke="#00ffff" stroke-width="1.41" stroke-linecap="square"/>
</g>
<g id="ax3">
<clipPath id="c3"><rect x="455.5" y="338.5" width="346.0" height="252.0"/></clipPath>
<g fill="#ffff00" clip-path="url(#c3)">
<circle cx="473.12" cy="399.86" r="3.30"/>
<circle cx="477.56" cy="365.70" r="3.30"/>
<circle cx="477.97" cy="373.10" r="3.30"/>
<circle cx="478.01" cy="406.74" r="3.30"/>
<circle cx="483.97" cy="357.78" r="3.30"/>
<circle cx="490.59" cy="354.34" r="3.30"/>
<circle cx="491.82" cy="367.18" r="3.30"/>
<circle cx="493.99" cy="391.50" r="3.30"/>
<circle cx="499.05" cy="410.51" r="3.30"/>
<circle cx="501.20" cy="376.75" r="3.30"/>
<circle cx="501.87" cy="401.88" r="3.30"/>
<circle cx="502.19" cy="374.87" r="3.30"/>
<circle cx="503.75" cy="393.43" r="3.30"/>
<circle cx="506.37" cy="383.25" r="3.30"/>
<circle cx="508.85" cy="396.41" r="3.30"/>
<circle cx="508.99" cy="390.69" r="3.30"/>
<circle cx="509.45" cy="402.91" r="3.30"/>
<circle cx="512.20" cy="376.33" r="3.30"/>
<circle cx="513.10" cy="405.31" r="3.30"/>
<circle cx="515.11" cy="403.22" r="3.30"/>
<circle cx="516.74" cy="380.44" r="3.30"/>
<circle cx="521.65" cy="441.42" r="3.30"/>
<circle cx="522.39" cy="441.17" r="3.30"/>
<circle cx="529.27" cy="413.73" r="3.30"/>
<circle cx="533.48" cy="456.29" r="3.30"/>
<circle cx="537.35" cy="410.13" r="3.30"/>
<circle cx="537.82" cy="450.50" r="3.30"/>
<circle cx="548.53" cy="473.87" r="3.30"/>
<circle cx="551.32" cy="433.68" r="3.30"/>
<circle cx="554.86" cy="447.05" r="3.30"/>
<circle cx="555.12" cy="440.98" r="3.30"/>
<circle cx="560.60" cy="466.22" r="3.30"/>
<circle cx="562.68" cy="499.30" r="3.30"/>
<circle cx="564.80" cy="456.17" r="3.30"/>
<circle cx="570.86" cy="502.32" r="3.30"/>
<circle cx="571.67" cy="485.57" r="3.30"/>
<circle cx="571.85" cy="483.42" r="3.30"/>
<circle cx="584.73" cy="520.20" r="3.30"/>
<circle cx="586.05" cy="508.97" r="3.30"/>
<circle cx="587.63" cy="505.77" r="3.30"/>
<circle cx="592.26" cy="520.39" r="3.30"/>
<circle cx="601.95" cy="554.82" r="3.30"/>
<circle cx="602.08" cy="531.45" r="3.30"/>
<circle cx="604.91" cy="516.49" r="3.30"/>
<circle cx="609.11" cy="553.43" r="3.30"/>
<circle cx="609.29" cy="544.39" r="3.30"/>
<circle cx="609.61" cy="549.39" r="3.30"/>
<circle cx="615.13" cy="514.01" r="3.30"/>
<circle cx="616.80" cy="534.51" r="3.30"/>
<circle cx="618.32" cy="539.53" r="3.30"/>
<circle cx="619.06" cy="559.56" r="3.30"/>
<circle cx="635.79" cy="538.40" r="3.30"/>
<circle cx="636.23" cy="558.68" r="3.30"/>
<circle cx="638.01" cy="546.33" r="3.30"/>
<circle cx="643.04" cy="555.61" r="3.30"/>
<circle cx="644.27" cy="532.97" r="3.30"/>
<circle cx="649.87" cy="531.32" r="3.30"/>
<circle cx="650.32" cy="544.19" r="3.30"/>
<circle cx="650.45" cy="533.95" r="3.30"/>
<circle cx="651.00" cy="558.57" r="3.30"/>
<circle cx="652.81" cy="563.92" r="3.30"/>
<circle cx="656.13" cy="528.76" r="3.30"/>
<circle cx="661.24" cy="528.54" r="3.30"/>
<circle cx="661.90" cy="520.00" r="3.30"/>
<circle cx="664.18" cy="488.23" r="3.30"/>
<circle cx="665.70" cy="510.71" r="3.30"/>
<circle cx="665.92" cy="541.67" r="3.30"/>
<circle cx="672.93" cy="499.06" r="3.30"/>
<circle cx="674.81" cy="537.47" r="3.30"/>
<circle cx="677.08" cy="520.04" r="3.30"/>
<circle cx="678.09" cy="512.03" r="3.30"/>
<circle cx="681.38" cy="477.42" r="3.30"/>
<circle cx="681.58" cy="518.42" r="3.30"/>
<circle cx="682.59" cy="518.31" r="3.30"/>
<circle cx="686.11" cy="500.80" r="3.30"/>
<circle cx="689.46" cy="505.10" r="3.30"/>
<circle cx="691.08" cy="472.47" r="3.30"/>
<circle cx="696.61" cy="500.62" r="3.30"/>
<circle cx="696.96" cy="501.17" r="3.30"/>
<circle cx="704.18" cy="477.27" r="3.30"/>
<circle cx="715.18" cy="459.88" r="3.30"/>
<circle cx="716.41" cy="417.05" r="3.30"/>
<circle cx="717.16" cy="432.29" r="3.30"/>
<circle cx="720.68" cy="441.01" r="3.30"/>
<circle cx="723.02" cy="459.30" r="3.30"/>
<circle cx="729.89" cy="413.83" r="3.30"/>
<circle cx="732.39" cy="441.08" r="3.30"/>
<circle cx="733.54" cy="448.53" r="3.30"/>
<circle cx="735.22" cy="400.20" r="3.30"/>
<circle cx="745.31" cy="401.42" r="3.30"/>
<circle cx="752.15" cy="383.46" r="3.30"/>
<circle cx="762.79" cy="383.91" r="3.30"/>
<circle cx="763.95" cy="374.01" r="3.30"/>
<circle cx="768.50" cy="396.38" r="3.30"/>
<circle cx="768.79" cy="402.65" r="3.30"/>
<circle cx="774.76" cy="370.98" r="3.30"/>
<circle cx="778.79" cy="394.66" r="3.30"/>
<circle cx="778.88" cy="392.73" r="3.30"/>
<circle cx="779.47" cy="388.66" r="3.30"/>
<circle cx="782.54" cy="380.18" r="3.30"/>
</g>
<path d="M471.5 338.5V590.5M534.5 338.5V590.5M597.5 338.5V590.5M660.5 338.5V590.5M723.5 338.5V590.5M786.5 338.5V590.5M455.5 590.5H801.5M455.5 548.5H801.5M455.5 506.5H801.5M455.5 464.5H801.5M455.5 422.5H801.5M455.5 380.5H801.5M455.5 338.5H801.5" stroke="#4d4d4d" stroke-width="1.00" fill="none"/>
<g fill="none" stroke-width="1.41" stroke-linejoin="round" stroke-linecap="square" clip-path="url(#c3)">
<path d="M471.65 380.25 L473.23 380.29 L474.81 380.42 L476.39 380.63 L477.97 380.92 L479.55 381.29 L481.13 381.75 L482.71 382.29 L484.29 382.92 L485.87 383.62 L487.45 384.40 L489.03 385.27 L490.61 386.21 L492.20 387.23 L493.78 388.32 L495.36 389.50 L496.94 390.74 L498.52 392.06 L500.10 393.45 L501.68 394.92 L503.26 396.45 L504.84 398.05 L506.42 399.71 L508.00 401.44 L509.58 403.23 L511.16 405.09 L512.74 407.00 L514.32 408.97 L515.90 410.99 L517.49 413.07 L519.07 415.20 L520.65 417.38 L522.23 419.60 L523.81 421.87 L525.39 424.18 L526.97 426.53 L528.55 428.92 L530.13 431.34 L531.71 433.80 L533.29 436.28 L534.87 438.80 L536.45 441.34 L538.03 443.90 L539.61 446.48 L541.20 449.08 L542.78 451.70 L544.36 454.33 L545.94 456.97 L547.52 459.61 L549.10 462.26 L550.68 464.91 L552.26 467.56 L553.84 470.21 L555.42 472.85 L557.00 475.49 L558.58 478.11 L560.16 480.72 L561.74 483.31 L563.32 485.88 L564.90 488.44 L566.49 490.96 L568.07 493.46 L569.65 495.94 L571.23 498.38 L572.81 500.78 L574.39 503.15 L575.97 505.48 L577.55 507.77 L579.13 510.02 L580.71 512.22 L582.29 514.37 L583.87 516.47 L585.45 518.53 L587.03 520.52 L588.61 522.46 L590.19 524.35 L591.78 526.17 L593.36 527.93 L594.94 529.63 L596.52 531.26 L598.10 532.83 L599.68 534.32 L601.26 535.75 L602.84 537.11 L604.42 538.39 L606.00 539.60 L607.58 540.73 L609.16 541.79 L610.74 542.77 L612.32 543.68 L613.90 544.50 L615.48 545.24 L617.07 545.91 L618.65 546.49 L620.23 546.99 L621.81 547.40 L623.39 547.74 L624.97 547.99 L626.55 548.16 L628.13 548.24 L629.71 548.24 L631.29 548.16 L632.87 547.99 L634.45 547.74 L636.03 547.40 L637.61 546.99 L639.19 546.49 L640.77 545.91 L642.36 545.24 L643.94 544.50 L645.52 543.68 L647.10 542.77 L648.68 541.79 L650.26 540.73 L651.84 539.60 L653.42 538.39 L655.00 537.11 L656.58 535.75 L658.16 534.32 L659.74 532.83 L661.32 531.26 L662.90 529.63 L664.48 527.93 L666.06 526.17 L667.65 524.35 L669.23 522.46 L670.81 520.52 L672.39 518.53 L673.97 516.47 L675.55 514.37 L677.13 512.22 L678.71 510.02 L680.29 507.77 L681.87 505.48 L683.45 503.15 L685.03 500.78 L686.61 498.38 L688.19 495.94 L689.77 493.46 L691.35 490.96 L692.94 488.44 L694.52 485.88 L696.10 483.31 L697.68 480.72 L699.26 478.11 L700.84 475.49 L702.42 472.85 L704.00 470.21 L705.58 467.56 L707.16 464.91 L708.74 462.26 L710.32 459.61 L711.90 456.97 L713.48 454.33 L715.06 451.70 L716.64 449.08 L718.23 446.48 L719.81 443.90 L721.39 441.34 L722.97 438.80 L724.55 436.28 L726.13 433.80 L727.71 431.34 L729.29 428.92 L730.87 426.53 L732.45 424.18 L734.03 421.87 L735.61 419.60 L737.19 417.38 L738.77 415.20 L740.35 413.07 L741.94 410.99 L743.52 408.97 L745.10 407.00 L746.68 405.09 L748.26 403.23 L749.84 401.44 L751.42 399.71 L753.00 398.05 L754.58 396.45 L756.16 394.92 L757.74 393.45 L759.32 392.06 L760.90 390.74 L762.48 389.50 L764.06 388.32 L765.64 387.23 L767.23 386.21 L768.81 385.27 L770.39 384.40 L771.97 383.62 L773.55 382.92 L775.13 382.29 L776.71 381.75 L778.29 381.29 L779.87 380.92 L781.45 380.63 L783.03 380.42 L784.61 380.29 L786.19 380.25" stroke="#ee82ee"/>
<path d="M471.65 412.70 L473.23 401.19 L474.81 391.80 L476.39 384.29 L477.97 378.43 L479.55 374.01 L481.13 370.84 L482.71 368.75 L484.29 367.58 L485.87 367.21 L487.45 367.50 L489.03 368.34 L490.61 369.65 L492.20 371.32 L493.78 373.30 L495.36 375.50 L496.94 377.88 L498.52 380.38 L500.10 382.96 L501.68 385.59 L503.26 388.24 L504.84 390.88 L506.42 393.50 L508.00 396.08 L509.58 398.61 L511.16 401.08 L512.74 403.49 L514.32 405.83 L515.90 408.11 L517.49 410.32 L519.07 412.47 L520.65 414.57 L522.23 416.62 L523.81 418.63 L525.39 420.60 L526.97 422.55 L528.55 424.47 L530.13 426.38 L531.71 428.28 L533.29 430.18 L534.87 432.10 L536.45 434.03 L538.03 435.98 L539.61 437.96 L541.20 439.97 L542.78 442.01 L544.36 444.10 L545.94 446.23 L547.52 448.41 L549.10 450.64 L550.68 452.91 L552.26 455.24 L553.84 457.61 L555.42 460.03 L557.00 462.51 L558.58 465.02 L560.16 467.58 L561.74 470.17 L563.32 472.81 L564.90 475.47 L566.49 478.16 L568.07 480.87 L569.65 483.60 L571.23 486.35 L572.81 489.09 L574.39 491.84 L575.97 494.58 L577.55 497.31 L579.13 500.01 L580.71 502.70 L582.29 505.35 L583.87 507.97 L585.45 510.54 L587.03 513.06 L588.61 515.53 L590.19 517.93 L591.78 520.27 L593.36 522.54 L594.94 524.73 L596.52 526.84 L598.10 528.86 L599.68 530.79 L601.26 532.63 L602.84 534.38 L604.42 536.02 L606.00 537.56 L607.58 539.00 L609.16 540.33 L610.74 541.55 L612.32 542.67 L613.90 543.67 L615.48 544.56 L617.07 545.34 L618.65 546.01 L620.23 546.58 L621.81 547.03 L623.39 547.37 L624.97 547.61 L626.55 547.74 L628.13 547.77 L629.71 547.70 L631.29 547.53 L632.87 547.27 L634.45 546.91 L636.03 546.46 L637.61 545.92 L639.19 545.30 L640.77 544.60 L642.36 543.82 L643.94 542.96 L645.52 542.03 L647.10 541.03 L648.68 539.97 L650.26 538.84 L651.84 537.65 L653.42 536.40 L655.00 535.10 L656.58 533.75 L658.16 532.34 L659.74 530.89 L661.32 529.39 L662.90 527.84 L664.48 526.26 L666.06 524.63 L667.65 522.96 L669.23 521.25 L670.81 519.51 L672.39 517.72 L673.97 515.90 L675.55 514.04 L677.13 512.14 L678.71 510.21 L680.29 508.24 L681.87 506.23 L683.45 504.18 L685.03 502.09 L686.61 499.96 L688.19 497.79 L689.77 495.57 L691.35 493.32 L692.94 491.02 L694.52 488.68 L696.10 486.29 L697.68 483.85 L699.26 481.37 L700.84 478.85 L702.42 476.27 L704.00 473.66 L705.58 470.99 L707.16 468.29 L708.74 465.54 L710.32 462.75 L711.90 459.92 L713.48 457.06 L715.06 454.16 L716.64 451.23 L718.23 448.28 L719.81 445.31 L721.39 442.33 L722.97 439.33 L724.55 436.34 L726.13 433.35 L727.71 430.37 L729.29 427.41 L730.87 424.48 L732.45 421.59 L734.03 418.75 L735.61 415.97 L737.19 413.26 L738.77 410.62 L740.35 408.08 L741.94 405.63 L743.52 403.30 L745.10 401.09 L746.68 399.01 L748.26 397.07 L749.84 395.29 L751.42 393.66 L753.00 392.20 L754.58 390.91 L756.16 389.79 L757.74 388.85 L759.32 388.09 L760.90 387.50 L762.48 387.08 L764.06 386.81 L765.64 386.69 L767.23 386.70 L768.81 386.81 L770.39 386.99 L771.97 387.22 L773.55 387.45 L775.13 387.63 L776.71 387.71 L778.29 387.62 L779.87 387.28 L781.45 386.62 L783.03 385.54 L784.61 383.92 L786.19 381.66" stroke="#00ffff"/>
</g>
<path d="M471.5 590.5v3.29M534.5 590.5v3.29M597.5 590.5v3.29M660.5 590.5v3.29M723.5 590.5v3.29M786.5 590.5v3.29M455.5 590.5h-3.29M455.5 548.5h-3.29M455.5 506.5h-3.29M455.5 464.5h-3.29M455.5 422.5h-3.29M455.5 380.5h-3.29M455.5 338.5h-3.29" stroke="#fff" stroke-width="1.00" fill="none"/>
<rect x="455.5" y="338.5" width="346.0" height="252.0" fill="none" stroke="#fff" stroke-width="1.00"/>
<rect x="460.5" y="541.5" width="74.0" height="43.799999999999955" rx="1.2" fill="#000" fill-opacity="0.8" stroke="#333" stroke-width="0.94"/>
<circle cx="473.66" cy="549.50" r="3.30" fill="#ffff00"/>
<path d="M464.26 562.70H483.06" stroke="#ee82ee" stroke-width="1.41" stroke-linecap="square"/>
<path d="M464.26 576.60H483.06" stroke="#00ffff" stroke-width="1.41" stroke-linecap="square"/>
</g>
<g id="labels" style="filter:grayscale(1)">
<text x="65.27" y="298.90" font-size="10.00" textLength="14.45" lengthAdjust="spacingAndGlyphs">0.0</text>
<text x="128.28" y="298.90" font-size="10.00" textLength="14.26" lengthAdjust="spacingAndGlyphs">0.2</text>
<text x="191.27" y="298.90" font-size="10.00" textLength="14.49" lengthAdjust="spacingAndGlyphs">0.4</text>
<text x="254.27" y="298.90" font-size="10.00" textLength="14.56" lengthAdjust="spacingAndGlyphs">0.6</text>
<text x="316.27" y="298.90" font-size="10.00" textLength="14.51" lengthAdjust="spacingAndGlyphs">0.8</text>
<text x="379.23" y="298.90" font-size="10.00" textLength="14.50" lengthAdjust="spacingAndGlyphs">1.0</text>
<text x="35.38" y="289.05" font-size="10.00" textLength="14.35" lengthAdjust="spacingAndGlyphs">1.5</text>
<text x="27.74" y="289.05" font-size="10.00" textLength="6.99" lengthAdjust="spacingAndGlyphs">−</text>
<text x="35.38" y="247.05" font-size="10.00" textLength="14.50" lengthAdjust="spacingAndGlyphs">1.0</text>
<text x="27.74" y="247.05" font-size="10.00" textLength="6.99" lengthAdjust="spacingAndGlyphs">−</text>
<text x="35.42" y="205.05" font-size="10.00" textLength="14.31" lengthAdjust="spacingAndGlyphs">0.5</text>
<text x="27.74" y="205.05" font-size="10.00" textLength="6.99" lengthAdjust="spacingAndGlyphs">−</text>
<text x="35.42" y="163.05" font-size="10.00" textLength="14.45" lengthAdjust="spacingAndGlyphs">0.0</text>
<text x="35.42" y="121.05" font-size="10.00" textLength="14.31" lengthAdjust="spacingAndGlyphs">0.5</text>
<text x="35.38" y="79.05" font-size="10.00" textLength="14.50" lengthAdjust="spacingAndGlyphs">1.0</text>
<text x="35.38" y="37.05" font-size="10.00" textLength="14.35" lengthAdjust="spacingAndGlyphs">1.5</text>
<text x="227.25" y="310.80" font-size="10.00" textLength="5.19" lengthAdjust="spacingAndGlyphs" font-style="italic">x</text>
<text transform="translate(20.30 159.50) rotate(-90)" font-size="9.6" text-anchor="middle" font-style="italic">y</text>
<text x="148.06" y="27.90" font-size="11.80" textLength="162.67" lengthAdjust="spacingAndGlyphs">Ajuste Polinomial de Grado 0</text>
<text x="91.64" y="246.00" font-size="10.00" textLength="27.21" lengthAdjust="spacingAndGlyphs">Datos</text>
<text x="91.70" y="259.65" font-size="10.00" textLength="15.62" lengthAdjust="spacingAndGlyphs">cos</text>
<text x="107.59" y="259.65" font-size="10.00" textLength="9.00" lengthAdjust="spacingAndGlyphs">(2</text>
<text x="117.18" y="259.65" font-size="10.00" textLength="5.57" lengthAdjust="spacingAndGlyphs" font-style="italic">π</text>
<text x="122.84" y="259.65" font-size="10.00" textLength="5.19" lengthAdjust="spacingAndGlyphs" font-style="italic">x</text>
<text x="128.98" y="259.65" font-size="10.00" textLength="2.61" lengthAdjust="spacingAndGlyphs">)</text>
<text x="91.58" y="273.60" font-size="10.00" textLength="40.62" lengthAdjust="spacingAndGlyphs">Grado 0:</text>
<text x="135.68" y="273.60" font-size="10.00" textLength="4.85" lengthAdjust="spacingAndGlyphs" font-style="italic">y</text>
<text x="143.42" y="273.60" font-size="10.00" textLength="7.06" lengthAdjust="spacingAndGlyphs">=</text>
<text x="152.93" y="273.60" font-size="10.00" textLength="20.40" lengthAdjust="spacingAndGlyphs">0.03</text>
<text x="464.27" y="298.90" font-size="10.00" textLength="14.45" lengthAdjust="spacingAndGlyphs">0.0</text>
<text x="527.28" y="298.90" font-size="10.00" textLength="14.26" lengthAdjust="spacingAndGlyphs">0.2</text>
<text x="590.27" y="298.90" font-size="10.00" textLength="14.49" lengthAdjust="spacingAndGlyphs">0.4</text>
<text x="653.27" y="298.90" font-size="10.00" textLength="14.56" lengthAdjust="spacingAndGlyphs">0.6</text>
<text x="716.27" y="298.90" font-size="10.00" textLength="14.51" lengthAdjust="spacingAndGlyphs">0.8</text>
<text x="779.23" y="298.90" font-size="10.00" textLength="14.50" lengthAdjust="spacingAndGlyphs">1.0</text>
<text x="434.38" y="289.05" font-size="10.00" textLength="14.35" lengthAdjust="spacingAndGlyphs">1.5</text>
<text x="426.74" y="289.05" font-size="10.00" textLength="6.99" lengthAdjust="spacingAndGlyphs">−</text>
<text x="434.38" y="247.05" font-size="10.00" textLength="14.50" lengthAdjust="spacingAndGlyphs">1.0</text>
<text x="426.74" y="247.05" font-size="10.00" textLength="6.99" lengthAdjust="spacingAndGlyphs">−</text>
<text x="434.42" y="205.05" font-size="10.00" textLength="14.31" lengthAdjust="spacingAndGlyphs">0.5</text>
<text x="426.74" y="205.05" font-size="10.00" textLength="6.99" lengthAdjust="spacingAndGlyphs">−</text>
<text x="434.42" y="163.05" font-size="10.00" textLength="14.45" lengthAdjust="spacingAndGlyphs">0.0</text>
<text x="434.42" y="121.05" font-size="10.00" textLength="14.31" lengthAdjust="spacingAndGlyphs">0.5</text>
<text x="434.38" y="79.05" font-size="10.00" textLength="14.50" lengthAdjust="spacingAndGlyphs">1.0</text>
<text x="434.38" y="37.05" font-size="10.00" textLength="14.35" lengthAdjust="spacingAndGlyphs">1.5</text>
<text x="626.25" y="310.80" font-size="10.00" textLength="5.19" lengthAdjust="spacingAndGlyphs" font-style="italic">x</text>
<text transform="translate(419.30 159.50) rotate(-90)" font-size="9.6" text-anchor="middle" font-style="italic">y</text>
<text x="547.56" y="27.90" font-size="11.80" textLength="162.51" lengthAdjust="spacingAndGlyphs">Ajuste Polinomial de Grado 1</text>
<text x="490.64" y="246.90" font-size="10.00" textLength="27.21" lengthAdjust="spacingAndGlyphs">Datos</text>
<text x="490.70" y="260.90" font-size="10.00" textLength="15.62" lengthAdjust="spacingAndGlyphs">cos</text>
<text x="506.59" y="260.90" font-size="10.00" textLength="9.00" lengthAdjust="spacingAndGlyphs">(2</text>
<text x="516.18" y="260.90" font-size="10.00" textLength="5.57" lengthAdjust="spacingAndGlyphs" font-style="italic">π</text>
<text x="521.84" y="260.90" font-size="10.00" textLength="5.19" lengthAdjust="spacingAndGlyphs" font-style="italic">x</text>
<text x="527.98" y="260.90" font-size="10.00" textLength="2.61" lengthAdjust="spacingAndGlyphs">)</text>
<text x="490.58" y="274.60" font-size="10.00" textLength="37.25" lengthAdjust="spacingAndGlyphs">Grado 1</text>
<text x="65.27" y="603.90" font-size="10.00" textLength="14.45" lengthAdjust="spacingAndGlyphs">0.0</text>
<text x="128.28" y="603.90" font-size="10.00" textLength="14.26" lengthAdjust="spacingAndGlyphs">0.2</text>
<text x="191.27" y="603.90" font-size="10.00" textLength="14.49" lengthAdjust="spacingAndGlyphs">0.4</text>
<text x="254.27" y="603.90" font-size="10.00" textLength="14.56" lengthAdjust="spacingAndGlyphs">0.6</text>
<text x="316.27" y="603.90" font-size="10.00" textLength="14.51" lengthAdjust="spacingAndGlyphs">0.8</text>
<text x="379.23" y="603.90" font-size="10.00" textLength="14.50" lengthAdjust="spacingAndGlyphs">1.0</text>
<text x="35.38" y="594.05" font-size="10.00" textLength="14.35" lengthAdjust="spacingAndGlyphs">1.5</text>
<text x="27.74" y="594.05" font-size="10.00" textLength="6.99" lengthAdjust="spacingAndGlyphs">−</text>
<text x="35.38" y="552.05" font-size="10.00" textLength="14.50" lengthAdjust="spacingAndGlyphs">1.0</text>
<text x="27.74" y="552.05" font-size="10.00" textLength="6.99" lengthAdjust="spacingAndGlyphs">−</text>
<text x="35.42" y="510.05" font-size="10.00" textLength="14.31" lengthAdjust="spacingAndGlyphs">0.5</text>
<text x="27.74" y="510.05" font-size="10.00" textLength="6.99" lengthAdjust="spacingAndGlyphs">−</text>
<text x="35.42" y="468.05" font-size="10.00" textLength="14.45" lengthAdjust="spacingAndGlyphs">0.0</text>
<text x="35.42" y="426.05" font-size="10.00" textLength="14.31" lengthAdjust="spacingAndGlyphs">0.5</text>
<text x="35.38" y="384.05" font-size="10.00" textLength="14.50" lengthAdjust="spacingAndGlyphs">1.0</text>
<text x="35.38" y="342.05" font-size="10.00" textLength="14.35" lengthAdjust="spacingAndGlyphs">1.5</text>
<text x="227.25" y="615.80" font-size="10.00" textLength="5.19" lengthAdjust="spacingAndGlyphs" font-style="italic">x</text>
<text transform="translate(20.30 464.50) rotate(-90)" font-size="9.6" text-anchor="middle" font-style="italic">y</text>
<text x="148.06" y="332.90" font-size="11.80" textLength="162.62" lengthAdjust="spacingAndGlyphs">Ajuste Polinomial de Grado 3</text>
<text x="91.64" y="551.90" font-size="10.00" textLength="27.21" lengthAdjust="spacingAndGlyphs">Datos</text>
<text x="91.70" y="565.90" font-size="10.00" textLength="15.62" lengthAdjust="spacingAndGlyphs">cos</text>
<text x="107.59" y="565.90" font-size="10.00" textLength="9.00" lengthAdjust="spacingAndGlyphs">(2</text>
<text x="117.18" y="565.90" font-size="10.00" textLength="5.57" lengthAdjust="spacingAndGlyphs" font-style="italic">π</text>
<text x="122.84" y="565.90" font-size="10.00" textLength="5.19" lengthAdjust="spacingAndGlyphs" font-style="italic">x</text>
<text x="128.98" y="565.90" font-size="10.00" textLength="2.61" lengthAdjust="spacingAndGlyphs">)</text>
<text x="91.58" y="579.60" font-size="10.00" textLength="37.34" lengthAdjust="spacingAndGlyphs">Grado 3</text>
<text x="464.27" y="603.90" font-size="10.00" textLength="14.45" lengthAdjust="spacingAndGlyphs">0.0</text>
<text x="527.28" y="603.90" font-size="10.00" textLength="14.26" lengthAdjust="spacingAndGlyphs">0.2</text>
<text x="590.27" y="603.90" font-size="10.00" textLength="14.49" lengthAdjust="spacingAndGlyphs">0.4</text>
<text x="653.27" y="603.90" font-size="10.00" textLength="14.56" lengthAdjust="spacingAndGlyphs">0.6</text>
<text x="716.27" y="603.90" font-size="10.00" textLength="14.51" lengthAdjust="spacingAndGlyphs">0.8</text>
<text x="779.23" y="603.90" font-size="10.00" textLength="14.50" lengthAdjust="spacingAndGlyphs">1.0</text>
<text x="434.38" y="594.05" font-size="10.00" textLength="14.35" lengthAdjust="spacingAndGlyphs">1.5</text>
<text x="426.74" y="594.05" font-size="10.00" textLength="6.99" lengthAdjust="spacingAndGlyphs">−</text>
<text x="434.38" y="552.05" font-size="10.00" textLength="14.50" lengthAdjust="spacingAndGlyphs">1.0</text>
<text x="426.74" y="552.05" font-size="10.00" textLength="6.99" lengthAdjust="spacingAndGlyphs">−</text>
<text x="434.42" y="510.05" font-size="10.00" textLength="14.31" lengthAdjust="spacingAndGlyphs">0.5</text>
<text x="426.74" y="510.05" font-size="10.00" textLength="6.99" lengthAdjust="spacingAndGlyphs">−</text>
<text x="434.42" y="468.05" font-size="10.00" textLength="14.45" lengthAdjust="spacingAndGlyphs">0.0</text>
<text x="434.42" y="426.05" font-size="10.00" textLength="14.31" lengthAdjust="spacingAndGlyphs">0.5</text>
<text x="434.38" y="384.05" font-size="10.00" textLength="14.50" lengthAdjust="spacingAndGlyphs">1.0</text>
<text x="434.38" y="342.05" font-size="10.00" textLength="14.35" lengthAdjust="spacingAndGlyphs">1.5</text>
<text x="626.25" y="615.80" font-size="10.00" textLength="5.19" lengthAdjust="spacingAndGlyphs" font-style="italic">x</text>
<text transform="translate(419.30 464.50) rotate(-90)" font-size="9.6" text-anchor="middle" font-style="italic">y</text>
<text x="547.56" y="332.90" font-size="11.80" textLength="162.80" lengthAdjust="spacingAndGlyphs">Ajuste Polinomial de Grado 9</text>
<text x="490.64" y="551.90" font-size="10.00" textLength="27.21" lengthAdjust="spacingAndGlyphs">Datos</text>
<text x="490.70" y="565.90" font-size="10.00" textLength="15.62" lengthAdjust="spacingAndGlyphs">cos</text>
<text x="506.59" y="565.90" font-size="10.00" textLength="9.00" lengthAdjust="spacingAndGlyphs">(2</text>
<text x="516.18" y="565.90" font-size="10.00" textLength="5.57" lengthAdjust="spacingAndGlyphs" font-style="italic">π</text>
<text x="521.84" y="565.90" font-size="10.00" textLength="5.19" lengthAdjust="spacingAndGlyphs" font-style="italic">x</text>
<text x="527.98" y="565.90" font-size="10.00" textLength="2.61" lengthAdjust="spacingAndGlyphs">)</text>
<text x="490.58" y="579.60" font-size="10.00" textLength="37.49" lengthAdjust="spacingAndGlyphs">Grado 9</text>
</g>
</svg>
</body></html>
